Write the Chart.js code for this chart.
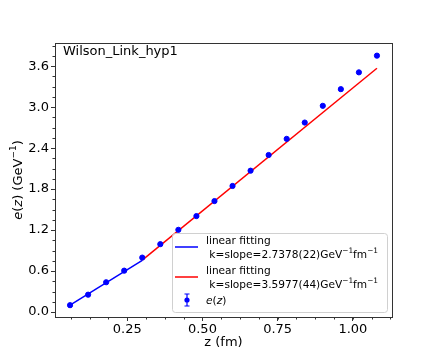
<!DOCTYPE html>
<html>
<head>
<meta charset="utf-8">
<script src="https://cdn.jsdelivr.net/npm/chart.js@4/dist/chart.umd.min.js"></script>
<style>
  body { margin: 0; background: #fff; }
  #wrap { width: 436px; height: 363px; }
</style>
</head>
<body>
<div id="wrap"><canvas id="chart" width="436" height="363"></canvas></div>
<script>
// data
const zValues = [0.06, 0.12, 0.18, 0.24, 0.30, 0.36, 0.42, 0.48, 0.54,
                 0.60, 0.66, 0.72, 0.78, 0.84, 0.90, 0.96, 1.02, 1.08];
const eValues = [0.10, 0.254, 0.436, 0.606, 0.797, 0.994, 1.204, 1.405, 1.625,
                 1.846, 2.07, 2.30, 2.536, 2.775, 3.02, 3.264, 3.51, 3.755];
const eErrors = [0.004, 0.004, 0.005, 0.005, 0.006, 0.006, 0.007, 0.007, 0.008,
                 0.008, 0.009, 0.009, 0.010, 0.010, 0.011, 0.012, 0.013, 0.014];

const blueFitZ = [0.06, 0.30];
const blueFitE = [0.10, 0.757];
const redFitZ = [0.30, 1.08];
const redFitE = [0.76, 3.57];

const xTicks = [0.25, 0.50, 0.75, 1.00];
const yTicks = [0.0, 0.6, 1.2, 1.8, 2.4, 3.0, 3.6];

const plotTitle = "Wilson_Link_hyp1";
const fitSlopes = ["2.7378(22)", "3.5977(44)"];

const FONT = "'DejaVu Sans', sans-serif";
const BLUE = "#0000ff";
const RED = "#ff0000";

function toPoints(xs, ys) {
  return xs.map((x, i) => ({ x: x, y: ys[i] }));
}

// draws a row of [text, font, raise] pieces starting at x
function richText(ctx, pieces, x, y) {
  pieces.forEach(p => {
    ctx.font = p[1];
    ctx.fillText(p[0], x, y - (p[2] || 0));
    x += ctx.measureText(p[0]).width;
  });
  return x;
}
function richWidth(ctx, pieces) {
  let w = 0;
  pieces.forEach(p => { ctx.font = p[1]; w += ctx.measureText(p[0]).width; });
  return w;
}

// frame, minor ticks, error bars, title, legend, axis titles
const decorPlugin = {
  id: "decor",
  afterDatasetsDraw(chart) {
    const ctx = chart.ctx;
    const xs = chart.scales.x;
    const ys = chart.scales.y;
    ctx.save();
    ctx.strokeStyle = BLUE;
    ctx.lineWidth = 1;
    zValues.forEach((z, i) => {
      const px = xs.getPixelForValue(z);
      const top = ys.getPixelForValue(eValues[i] + eErrors[i]);
      const bot = ys.getPixelForValue(eValues[i] - eErrors[i]);
      ctx.beginPath();
      ctx.moveTo(px, top); ctx.lineTo(px, bot);
      ctx.moveTo(px - 2, top); ctx.lineTo(px + 2, top);
      ctx.moveTo(px - 2, bot); ctx.lineTo(px + 2, bot);
      ctx.stroke();
    });
    ctx.restore();
  },
  afterDraw(chart) {
    const ctx = chart.ctx;
    const a = chart.chartArea;
    const xs = chart.scales.x;
    const ys = chart.scales.y;
    ctx.save();

    // frame
    ctx.strokeStyle = "#333";
    ctx.lineWidth = 1;
    ctx.strokeRect(a.left + 0.5, a.top + 0.5, a.right - a.left, a.bottom - a.top);

    // minor ticks
    ctx.beginPath();
    for (let v = 0.0625; v < xs.max; v += 0.0625) {
      if (v < xs.min) continue;
      const px = Math.round(xs.getPixelForValue(v)) + 0.5;
      ctx.moveTo(px, a.bottom); ctx.lineTo(px, a.bottom + 2.5);
    }
    for (let v = 0; v < ys.max; v += 0.15) {
      if (v < ys.min) continue;
      const py = Math.round(ys.getPixelForValue(v)) + 0.5;
      ctx.moveTo(a.left, py); ctx.lineTo(a.left - 2.5, py);
    }
    ctx.stroke();

    // title inside the plot
    ctx.fillStyle = "#000";
    ctx.font = "13px " + FONT;
    ctx.textBaseline = "middle";
    ctx.textAlign = "left";
    ctx.fillText(plotTitle, a.left + 8, a.top + 9);

    // x axis title
    ctx.textAlign = "center";
    ctx.fillText("z (fm)", (a.left + a.right) / 2, 343);

    // y axis title, rotated, with italic e(z)
    const f13 = "13px " + FONT, i13 = "italic 13px " + FONT, s9 = "9px " + FONT;
    const yTitle = [["e", i13], ["(", f13], ["z", i13], [") (GeV", f13],
                    ["\u22121", s9, 5], [")", f13]];
    ctx.save();
    ctx.translate(19, (a.top + a.bottom) / 2);
    ctx.rotate(-Math.PI / 2);
    ctx.textAlign = "left";
    richText(ctx, yTitle, -richWidth(ctx, yTitle) / 2, 0);
    ctx.restore();

    // legend box
    const lx = 172, ly = 233, lw = 215, lh = 79;
    ctx.fillStyle = "rgba(255,255,255,0.8)";
    ctx.strokeStyle = "#d0d0d0";
    ctx.lineWidth = 1;
    ctx.beginPath();
    ctx.roundRect(lx + 0.5, ly + 0.5, lw, lh, 3);
    ctx.fill();
    ctx.stroke();

    const f10 = "10.6px " + FONT, i10 = "italic 10.6px " + FONT, s7 = "7.4px " + FONT;
    ctx.fillStyle = "#000";
    ctx.textAlign = "left";
    const colors = [BLUE, RED];
    const rowsY = [[241, 255], [271, 285]];
    fitSlopes.forEach((k, i) => {
      const midY = (rowsY[i][0] + rowsY[i][1]) / 2 - 1;
      ctx.strokeStyle = colors[i];
      ctx.lineWidth = 1.5;
      ctx.beginPath();
      ctx.moveTo(175, midY); ctx.lineTo(198, midY);
      ctx.stroke();
      ctx.font = f10;
      ctx.fillText("linear fitting", 206, rowsY[i][0]);
      richText(ctx, [[" k=slope=" + k + "GeV", f10], ["\u22121", s7, 4],
                     ["fm", f10], ["\u22121", s7, 4]], 206, rowsY[i][1]);
    });

    // errorbar marker
    const mx = 187, my = 300;
    ctx.strokeStyle = BLUE;
    ctx.fillStyle = BLUE;
    ctx.lineWidth = 1.2;
    ctx.beginPath();
    ctx.moveTo(mx, my - 6); ctx.lineTo(mx, my + 6);
    ctx.moveTo(mx - 2.5, my - 6); ctx.lineTo(mx + 2.5, my - 6);
    ctx.moveTo(mx - 2.5, my + 6); ctx.lineTo(mx + 2.5, my + 6);
    ctx.stroke();
    ctx.beginPath();
    ctx.arc(mx, my, 2.6, 0, Math.PI * 2);
    ctx.fill();

    ctx.fillStyle = "#000";
    richText(ctx, [["e", i10], ["(", f10], ["z", i10], [")", f10]], 206, 301);

    ctx.restore();
  },
};

const ctx = document.getElementById("chart").getContext("2d");

const chart = new Chart(ctx, {
  type: "scatter",
  data: {
    datasets: [
      {
        label: "e(z)",
        data: toPoints(zValues, eValues),
        backgroundColor: BLUE,
        borderColor: BLUE,
        pointRadius: 2.6,
        showLine: false,
      },
      {
        label: "blue fit",
        data: toPoints(blueFitZ, blueFitE),
        borderColor: BLUE,
        borderWidth: 1.5,
        pointRadius: 0,
        showLine: true,
      },
      {
        label: "red fit",
        data: toPoints(redFitZ, redFitE),
        borderColor: RED,
        borderWidth: 1.5,
        pointRadius: 0,
        showLine: true,
      },
    ],
  },
  options: {
    responsive: false,
    animation: false,
    layout: { padding: { top: 43, right: 44, left: 0, bottom: 0 } },
    plugins: {
      legend: { display: false },
      tooltip: { enabled: false },
    },
    scales: {
      x: {
        type: "linear",
        min: 0.01,
        max: 1.13,
        border: { display: false },
        grid: { drawOnChartArea: false, drawTicks: true, tickLength: 4, tickColor: "#333" },
        afterBuildTicks: (s) => { s.ticks = xTicks.map(v => ({ value: v })); },
        afterFit: (s) => { s.height = 46; },
        ticks: {
          autoSkip: false,
          maxRotation: 0,
          padding: 1,
          color: "#000",
          font: { family: FONT, size: 13 },
          callback: (v) => Number(v).toFixed(2),
        },
      },
      y: {
        type: "linear",
        min: -0.073,
        max: 3.94,
        border: { display: false },
        grid: { drawOnChartArea: false, drawTicks: true, tickLength: 4, tickColor: "#333" },
        afterBuildTicks: (s) => { s.ticks = yTicks.map(v => ({ value: v })); },
        afterFit: (s) => { s.width = 55; },
        ticks: {
          autoSkip: false,
          padding: 2,
          color: "#000",
          font: { family: FONT, size: 13 },
          callback: (v) => Number(v).toFixed(1),
        },
      },
    },
  },
  plugins: [decorPlugin],
});
</script>
</body>
</html>
